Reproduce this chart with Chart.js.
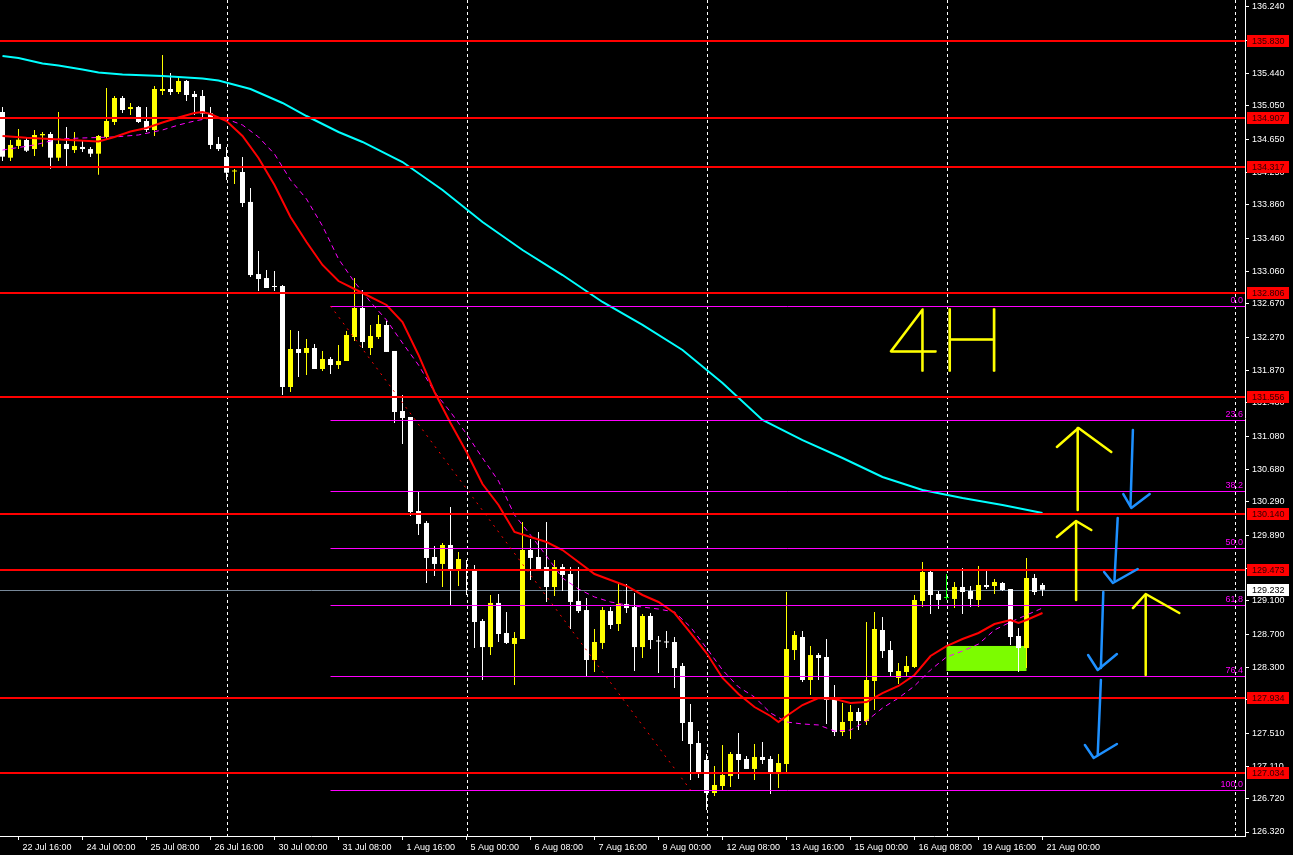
<!DOCTYPE html>
<html>
<head>
<meta charset="utf-8">
<script src="https://cdn.jsdelivr.net/npm/chart.js@4.4.1/dist/chart.umd.min.js"></script>
<style>
  html, body { margin: 0; padding: 0; background: #000; overflow: hidden; }
  canvas { display: block; }
</style>
</head>
<body>
<canvas id="priceChart" width="1293" height="855"></canvas>
<script>
// 4H candles, one per bar index (0 = leftmost visible bar)
const opens = [
  134.977, 134.428, 134.569, 134.641, 134.532, 134.697, 134.713, 134.428, 134.593, 134.520,
  134.557, 134.532, 134.476, 134.677, 134.857, 135.146, 135.013, 135.037, 134.869, 134.761,
  135.230, 135.254, 135.218, 135.350, 135.194, 135.170, 134.962, 134.593, 134.436, 134.262,
  134.256, 133.896, 133.029, 132.981, 132.885, 132.885, 131.671, 132.128, 132.080, 132.140,
  131.887, 132.007, 131.935, 131.983, 132.272, 132.621, 132.140, 132.272, 132.416, 132.104,
  131.382, 131.310, 130.180, 130.036, 129.627, 129.543, 129.771, 129.458, 129.482, 129.470,
  128.857, 128.544, 129.074, 128.713, 128.581, 128.641, 129.711, 129.627, 129.506, 129.266,
  129.506, 129.422, 129.098, 128.989, 128.388, 128.593, 128.977, 128.821, 129.062, 129.025,
  128.544, 128.917, 128.623, 128.611, 128.605, 128.316, 127.643, 127.390, 127.186, 126.789,
  126.873, 126.993, 127.258, 127.198, 127.078, 127.222, 127.198, 127.017, 127.138, 128.508,
  128.665, 128.148, 128.448, 128.424, 127.931, 127.522, 127.655, 127.763, 127.655, 128.136,
  128.749, 128.508, 128.172, 128.244, 128.304, 129.098, 129.446, 129.182, 129.134, 129.122,
  129.266, 129.218, 129.110, 129.290, 129.278, 129.314, 129.242, 128.677, 128.532, 129.374,
  129.290
];
const highs = [
  135.037, 134.641, 134.773, 134.673, 134.761, 134.737, 134.737, 134.977, 134.797, 134.737,
  134.629, 134.557, 134.701, 135.266, 135.170, 135.170, 135.086, 135.049, 135.037, 135.290,
  135.663, 135.446, 135.386, 135.362, 135.230, 135.242, 135.037, 134.677, 134.557, 134.292,
  134.436, 134.063, 133.306, 133.078, 133.066, 132.897, 132.356, 132.344, 132.248, 132.188,
  132.104, 132.031, 132.176, 132.344, 132.981, 132.837, 132.416, 132.536, 132.464, 132.104,
  131.575, 131.310, 130.408, 130.060, 129.759, 129.795, 130.228, 129.687, 129.591, 129.530,
  128.881, 129.170, 129.182, 128.965, 128.725, 130.048, 129.843, 129.927, 130.048, 129.591,
  129.543, 129.506, 129.506, 129.134, 128.761, 129.025, 129.025, 129.314, 129.302, 129.194,
  128.941, 128.953, 128.677, 128.737, 128.665, 128.352, 127.859, 127.534, 127.258, 127.114,
  127.366, 127.282, 127.511, 127.234, 127.378, 127.402, 127.234, 127.258, 129.206, 128.737,
  128.737, 128.557, 128.472, 128.641, 128.088, 127.871, 127.847, 127.811, 128.845, 128.965,
  128.905, 128.617, 128.352, 128.436, 129.170, 129.567, 129.458, 129.218, 129.422, 129.326,
  129.494, 129.278, 129.518, 129.458, 129.362, 129.326, 129.242, 128.773, 129.615, 129.422,
  129.314
];
const lows = [
  134.388, 134.388, 134.532, 134.496, 134.448, 134.560, 134.296, 134.388, 134.328, 134.484,
  134.496, 134.436, 134.224, 134.641, 134.821, 134.965, 134.941, 134.845, 134.737, 134.689,
  135.182, 135.182, 135.194, 135.110, 134.941, 134.905, 134.532, 134.508, 134.160, 134.112,
  133.835, 132.993, 132.825, 132.861, 132.825, 131.575, 131.611, 131.791, 131.815, 131.887,
  131.863, 131.827, 131.887, 131.983, 132.224, 132.140, 132.056, 132.248, 132.092, 131.238,
  130.985, 130.120, 129.891, 129.314, 129.398, 129.266, 129.049, 129.278, 129.170, 128.533,
  128.148, 128.448, 128.605, 128.581, 128.088, 128.641, 129.350, 129.470, 129.086, 129.158,
  129.218, 128.761, 128.953, 128.196, 128.244, 128.521, 128.761, 128.737, 128.953, 128.256,
  128.412, 128.521, 128.232, 128.532, 128.051, 127.414, 126.945, 126.969, 126.585, 126.753,
  126.825, 126.861, 126.957, 127.078, 126.945, 127.138, 126.777, 126.849, 127.042, 128.388,
  128.124, 127.967, 128.148, 127.619, 127.474, 127.474, 127.438, 127.546, 127.607, 127.787,
  128.412, 128.184, 128.100, 128.184, 128.292, 129.025, 128.941, 129.001, 129.110, 129.013,
  128.941, 129.025, 129.025, 129.242, 129.182, 129.218, 128.569, 128.244, 128.292, 129.170,
  129.158
];
const closes = [
  134.440, 134.581, 134.644, 134.512, 134.701, 134.713, 134.428, 134.593, 134.532, 134.569,
  134.532, 134.476, 134.689, 134.869, 135.146, 135.001, 135.037, 134.857, 134.761, 135.254,
  135.254, 135.218, 135.350, 135.182, 135.158, 134.959, 134.581, 134.532, 134.247, 134.274,
  133.883, 133.017, 132.969, 132.861, 132.873, 131.671, 132.128, 132.080, 132.140, 131.887,
  132.007, 131.935, 131.983, 132.296, 132.621, 132.212, 132.284, 132.428, 132.092, 131.370,
  131.298, 130.168, 130.024, 129.615, 129.543, 129.771, 129.458, 129.603, 129.458, 128.845,
  128.544, 129.074, 128.701, 128.593, 128.653, 129.711, 129.615, 129.482, 129.266, 129.506,
  129.410, 129.086, 128.977, 128.388, 128.605, 128.989, 128.809, 129.062, 129.013, 128.544,
  128.917, 128.629, 128.611, 128.599, 128.292, 127.631, 127.378, 127.029, 126.789, 126.885,
  127.006, 127.258, 127.186, 127.078, 127.222, 127.186, 127.029, 127.150, 128.520, 128.689,
  128.148, 128.448, 128.412, 127.907, 127.522, 127.643, 127.763, 127.655, 128.148, 128.761,
  128.496, 128.244, 128.256, 128.316, 129.110, 129.446, 129.170, 129.110, 129.134, 129.266,
  129.206, 129.122, 129.290, 129.266, 129.326, 129.230, 128.665, 128.532, 129.374, 129.206,
  129.232
];

// moving averages as [bar, price]
const maSlow = [
  [0, 135.651], [2, 135.627], [5, 135.561], [7, 135.536], [10, 135.488], [12, 135.452],
  [15, 135.428], [20, 135.410], [25, 135.380], [27, 135.356], [31, 135.254], [35, 135.086],
  [38, 134.929], [42, 134.737], [45, 134.617], [50, 134.376], [55, 134.039], [60, 133.655],
  [65, 133.318], [70, 133.017], [75, 132.693], [80, 132.417], [85, 132.116], [90, 131.719],
  [95, 131.274], [100, 131.033], [105, 130.817], [110, 130.589], [115, 130.432], [120, 130.336],
  [125, 130.252], [130, 130.156]
];
const maFast = [
  [0, 134.689], [3, 134.667], [6, 134.653], [9, 134.637], [12, 134.623], [14, 134.677],
  [16, 134.743], [18, 134.785], [20, 134.851], [22, 134.911], [24, 134.965], [25, 134.977],
  [26, 134.953], [28, 134.869], [30, 134.689], [32, 134.424], [34, 134.100], [36, 133.715],
  [38, 133.414], [40, 133.138], [42, 132.945], [44, 132.849], [46, 132.753], [48, 132.657],
  [50, 132.452], [52, 132.056], [54, 131.611], [56, 131.238], [58, 130.889], [60, 130.504],
  [62, 130.252], [64, 129.927], [66, 129.867], [68, 129.807], [70, 129.711], [72, 129.567],
  [74, 129.422], [76, 129.350], [78, 129.278], [80, 129.170], [82, 129.086], [84, 128.953],
  [86, 128.713], [88, 128.472], [90, 128.172], [92, 127.979], [94, 127.823], [96, 127.715],
  [97, 127.643], [98, 127.715], [100, 127.847], [102, 127.931], [104, 127.919], [106, 127.871],
  [108, 127.883], [110, 127.991], [112, 128.076], [114, 128.208], [116, 128.436], [118, 128.556],
  [120, 128.641], [122, 128.713], [124, 128.821], [126, 128.869], [127, 128.833], [128, 128.869],
  [130, 128.953]
];
const maShifted = [
  [0, 134.520], [4, 134.581], [7, 134.653], [10, 134.665], [14, 134.677], [17, 134.701],
  [20, 134.761], [22, 134.821], [24, 134.869], [26, 134.905], [28, 134.893], [30, 134.821],
  [32, 134.677], [34, 134.472], [36, 134.160], [38, 133.931], [40, 133.607], [42, 133.210],
  [44, 132.933], [46, 132.693], [48, 132.476], [50, 132.200], [52, 131.935], [54, 131.611],
  [56, 131.370], [58, 131.106], [60, 130.817], [62, 130.541], [64, 130.132], [66, 129.891],
  [68, 129.639], [70, 129.374], [72, 129.242], [74, 129.146], [76, 129.086], [78, 129.050],
  [80, 129.025], [82, 129.001], [84, 128.965], [86, 128.785], [88, 128.532], [90, 128.268],
  [92, 128.064], [94, 127.943], [96, 127.751], [98, 127.643], [100, 127.619], [102, 127.607],
  [104, 127.534], [106, 127.546], [108, 127.655], [110, 127.811], [112, 127.931], [114, 128.076],
  [116, 128.268], [118, 128.424], [120, 128.496], [122, 128.580], [124, 128.749], [126, 128.845],
  [128, 128.929], [130, 129.013]
];

// axis labels
const timeLabels = [
  "22 Jul 16:00", "24 Jul 00:00", "25 Jul 08:00", "26 Jul 16:00", "30 Jul 00:00", "31 Jul 08:00",
  "1 Aug 16:00", "5 Aug 00:00", "6 Aug 08:00", "7 Aug 16:00", "9 Aug 00:00", "12 Aug 08:00",
  "13 Aug 16:00", "15 Aug 00:00", "16 Aug 08:00", "19 Aug 16:00", "21 Aug 00:00"
];
const timeLabelBars = [2, 10, 18, 26, 34, 42, 50, 58, 66, 74, 82, 90, 98, 106, 114, 122, 130];
const priceTicks = [
  "126.320", "126.720", "127.110", "127.510", "127.910", "128.300", "128.700", "129.100",
  "129.490", "129.890", "130.290", "130.680", "131.080", "131.480", "131.870", "132.270",
  "132.670", "133.060", "133.460", "133.860", "134.250", "134.650", "135.050", "135.440",
  "135.840", "136.240"
];
const gridBars = [28, 58, 88, 118, 154];

// drawn objects
const levels = [135.830, 134.907, 134.317, 132.806, 131.556, 130.140, 129.473, 127.934, 127.034];
const fibLabels = ["0.0", "23.6", "38.2", "50.0", "61.8", "76.4", "100.0"];
const fibPrices = [132.645, 131.272, 130.422, 129.735, 129.048, 128.198, 126.825];
const fibStartBar = 41;
const fibEndBar = 86;
const currentPrice = 129.232;
const zone = { from: 118, to: 128, low: 128.256, high: 128.557 };
const yellowStrokes = [
  [[134.4, 130.192], [134.4, 131.178]], [[131.8, 130.949], [134.5, 131.178], [138.6, 130.889]],
  [[134.2, 129.110], [134.2, 130.048]], [[131.8, 129.867], [134.2, 130.060], [136.1, 129.951]],
  [[142.9, 128.208], [142.9, 129.158]], [[141.3, 129.013], [142.9, 129.182], [147.1, 128.953]]
];
const blueStrokes = [
  [[141.3, 131.154], [141.0, 130.252]], [[140.1, 130.384], [141.1, 130.216], [143.4, 130.384]],
  [[139.4, 130.096], [139.0, 129.350]], [[137.7, 129.446], [138.8, 129.314], [141.9, 129.482]],
  [[137.6, 129.206], [137.3, 128.292]], [[135.7, 128.448], [136.9, 128.268], [139.3, 128.460]],
  [[137.3, 128.148], [136.9, 127.246]], [[135.3, 127.366], [136.4, 127.210], [139.3, 127.378]]
];
const noteText = "4H";
const notePos = [118, 132.2];

const AXIS_FONT = { family: "'Liberation Sans', Arial, sans-serif", size: 9 };

const candleColors = opens.map((o, i) =>
  closes[i] > o ? "#FFFF00" : closes[i] < o ? "#FFFFFF" : "#00FF00"
);
const wickData = opens.map((o, i) => ({ x: i, y: [lows[i], highs[i]] }));
const bodyData = opens.map((o, i) => ({
  x: i,
  y: [Math.min(o, closes[i]), Math.max(o, closes[i])],
}));
const toPoints = (arr) => arr.map(([x, y]) => ({ x, y }));

function strokePath(ctx, xs, ys, pts) {
  ctx.beginPath();
  pts.forEach(([b, p], i) => {
    const px = xs.getPixelForValue(b);
    const py = ys.getPixelForValue(p);
    if (i === 0) ctx.moveTo(px, py);
    else ctx.lineTo(px, py);
  });
  ctx.stroke();
}

const overlay = {
  id: "overlay",
  beforeDatasetsDraw(chart) {
    const { ctx, chartArea: area, scales: { x, y } } = chart;
    ctx.save();
    ctx.beginPath();
    ctx.rect(area.left, area.top, area.width, area.height);
    ctx.clip();

    // dotted vertical grid
    ctx.strokeStyle = "#FFFFFF";
    ctx.lineWidth = 1;
    ctx.setLineDash([3, 3]);
    gridBars.forEach((b) => {
      const px = Math.round(x.getPixelForValue(b)) + 0.5;
      ctx.beginPath();
      ctx.moveTo(px, area.top);
      ctx.lineTo(px, area.bottom);
      ctx.stroke();
    });
    ctx.setLineDash([]);

    // support zone
    const zx1 = x.getPixelForValue(zone.from);
    const zx2 = x.getPixelForValue(zone.to);
    const zy1 = y.getPixelForValue(zone.high);
    const zy2 = y.getPixelForValue(zone.low);
    ctx.fillStyle = "#7CFC00";
    ctx.fillRect(zx1, zy1, zx2 - zx1, zy2 - zy1);

    // bid line
    const cy = Math.round(y.getPixelForValue(currentPrice)) + 0.5;
    ctx.strokeStyle = "#778899";
    ctx.beginPath();
    ctx.moveTo(area.left, cy);
    ctx.lineTo(area.right, cy);
    ctx.stroke();
    ctx.restore();
  },
  afterDatasetsDraw(chart) {
    const { ctx, chartArea: area, scales: { x, y } } = chart;
    ctx.save();
    ctx.beginPath();
    ctx.rect(area.left, area.top, area.width, area.height);
    ctx.clip();

    // fibonacci retracement
    const fx = x.getPixelForValue(fibStartBar);
    ctx.strokeStyle = "#FF00FF";
    ctx.lineWidth = 1;
    fibPrices.forEach((p) => {
      const py = Math.round(y.getPixelForValue(p)) + 0.5;
      ctx.beginPath();
      ctx.moveTo(fx, py);
      ctx.lineTo(area.right, py);
      ctx.stroke();
    });
    ctx.strokeStyle = "#FF0000";
    ctx.setLineDash([2, 5]);
    strokePath(ctx, x, y, [[fibStartBar, fibPrices[0]], [fibEndBar, fibPrices[fibPrices.length - 1]]]);
    ctx.setLineDash([]);

    // horizontal levels
    ctx.strokeStyle = "#FF0000";
    ctx.lineWidth = 2;
    levels.forEach((p) => {
      const py = Math.round(y.getPixelForValue(p));
      ctx.beginPath();
      ctx.moveTo(area.left, py);
      ctx.lineTo(area.right, py);
      ctx.stroke();
    });

    // hand drawn notes
    ctx.lineCap = "round";
    ctx.lineJoin = "round";
    ctx.lineWidth = 2.5;
    ctx.strokeStyle = "#FFFF00";
    yellowStrokes.forEach((s) => strokePath(ctx, x, y, s));
    ctx.strokeStyle = "#1E90FF";
    blueStrokes.forEach((s) => strokePath(ctx, x, y, s));

    ctx.fillStyle = "#FFFF00";
    ctx.strokeStyle = "#FFFF00";
    ctx.lineWidth = 1.5;
    ctx.font = "100 88px Lato, 'DejaVu Sans', sans-serif";
    ctx.textAlign = "center";
    ctx.textBaseline = "middle";
    const nx = x.getPixelForValue(notePos[0]);
    const ny = y.getPixelForValue(notePos[1]);
    ctx.fillText(noteText, nx, ny);
    ctx.strokeText(noteText, nx, ny);
    ctx.restore();
  },
  afterDraw(chart) {
    const { ctx, chartArea: area, scales: { y } } = chart;
    const font = `${AXIS_FONT.size}px ${AXIS_FONT.family}`;
    ctx.save();
    ctx.font = font;

    // fib level labels
    ctx.fillStyle = "#FF00FF";
    ctx.textAlign = "right";
    ctx.textBaseline = "bottom";
    fibPrices.forEach((p, i) => {
      ctx.fillText(fibLabels[i], area.right - 2, Math.round(y.getPixelForValue(p)) - 1);
    });

    // price tags on the axis
    ctx.textAlign = "left";
    ctx.textBaseline = "middle";
    levels.forEach((p) => {
      const py = Math.round(y.getPixelForValue(p));
      ctx.fillStyle = "#FF0000";
      ctx.fillRect(area.right + 2, py - 6, 42, 12);
      ctx.fillStyle = "#300000";
      ctx.fillText(p.toFixed(3), area.right + 7, py + 0.5);
    });
    const cp = Math.round(y.getPixelForValue(currentPrice));
    ctx.fillStyle = "#FFFFFF";
    ctx.fillRect(area.right + 2, cp - 6, 42, 12);
    ctx.fillStyle = "#000000";
    ctx.fillText(currentPrice.toFixed(3), area.right + 7, cp + 0.5);
    ctx.restore();
  },
};

const ctx = document.getElementById("priceChart").getContext("2d");
const chart = new Chart(ctx, {
  type: "bar",
  data: {
    datasets: [
      {
        type: "line",
        label: "MA slow",
        data: toPoints(maSlow),
        borderColor: "#00FFFF",
        borderWidth: 2,
        pointRadius: 0,
        fill: false,
        tension: 0,
        order: 0,
      },
      {
        type: "line",
        label: "MA fast",
        data: toPoints(maFast),
        borderColor: "#FF0000",
        borderWidth: 2,
        pointRadius: 0,
        fill: false,
        tension: 0,
        order: 0,
      },
      {
        type: "line",
        label: "MA shifted",
        data: toPoints(maShifted),
        borderColor: "#FF00FF",
        borderWidth: 1,
        borderDash: [5, 4],
        pointRadius: 0,
        fill: false,
        tension: 0,
        order: 0,
      },
      {
        label: "bodies",
        data: bodyData,
        backgroundColor: candleColors,
        barThickness: 5,
        minBarLength: 1,
        inflateAmount: 0,
        grouped: false,
        order: 1,
      },
      {
        label: "wicks",
        data: wickData,
        backgroundColor: candleColors,
        barThickness: 1,
        minBarLength: 1,
        inflateAmount: 0,
        grouped: false,
        order: 2,
      },
    ],
  },
  options: {
    responsive: false,
    animation: false,
    layout: { padding: 0 },
    plugins: {
      legend: { display: false },
      tooltip: { enabled: false },
    },
    scales: {
      x: {
        type: "linear",
        min: -0.3125,
        max: 155.3125,
        offset: false,
        grid: {
          display: true,
          offset: false,
          drawOnChartArea: false,
          drawTicks: true,
          tickLength: 4,
          color: "#FFFFFF",
        },
        border: { display: true, color: "#FFFFFF", width: 1 },
        ticks: {
          color: "#FFFFFF",
          font: AXIS_FONT,
          align: "start",
          labelOffset: 4,
          padding: 2,
          maxRotation: 0,
          autoSkip: false,
          callback: (value) => {
            const i = timeLabelBars.indexOf(value);
            return i >= 0 ? timeLabels[i] : "";
          },
        },
        afterBuildTicks: (scale) => {
          scale.ticks = timeLabelBars.map((v) => ({ value: v }));
        },
        afterFit: (scale) => {
          scale.height = 19;
          scale.paddingLeft = 0;
          scale.paddingRight = 0;
        },
      },
      y: {
        position: "right",
        min: 126.272,
        max: 136.324,
        grid: {
          display: true,
          drawOnChartArea: false,
          drawTicks: true,
          tickLength: 4,
          color: "#FFFFFF",
        },
        border: { display: true, color: "#FFFFFF", width: 1 },
        ticks: {
          color: "#FFFFFF",
          font: AXIS_FONT,
          padding: 3,
          autoSkip: false,
          callback: (value, index) => priceTicks[index],
        },
        afterBuildTicks: (scale) => {
          scale.ticks = priceTicks.map((t) => ({ value: parseFloat(t) }));
        },
        afterFit: (scale) => {
          scale.width = 48;
          scale.paddingTop = 0;
          scale.paddingBottom = 0;
        },
      },
    },
  },
  plugins: [overlay],
});
</script>
</body>
</html>
